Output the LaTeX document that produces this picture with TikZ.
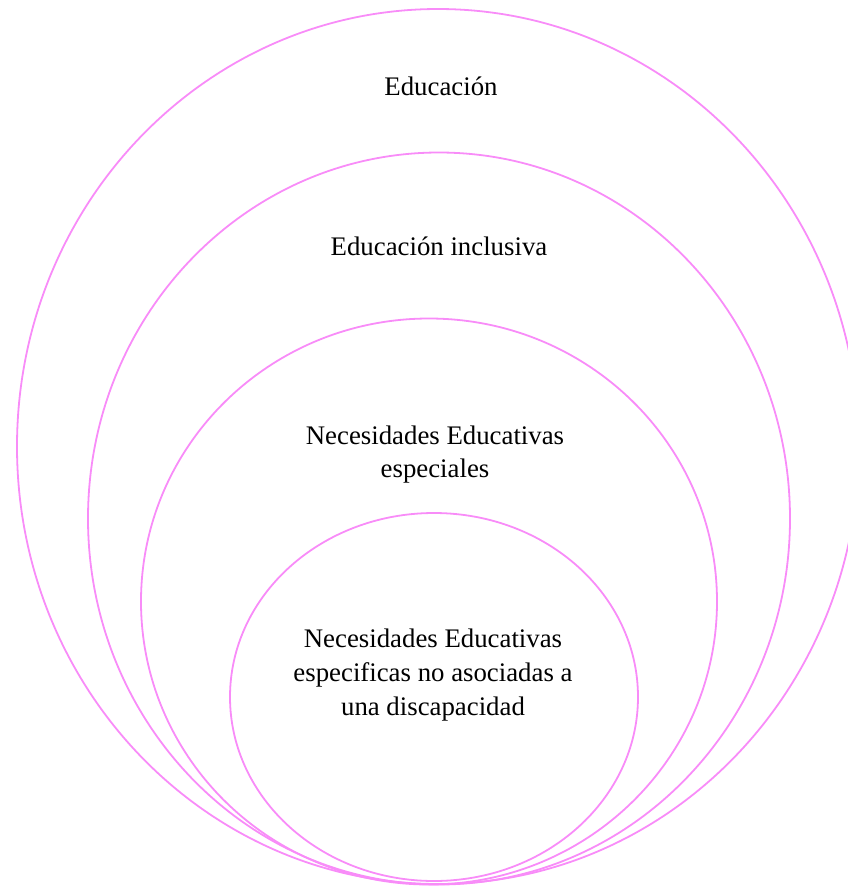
\documentclass[tikz,border=0pt]{standalone}
\usepackage{fontspec}
\setmainfont{Liberation Serif}
\definecolor{ringpink}{RGB}{248,140,248}
\begin{document}
\begin{tikzpicture}[x=1pt,y=-1pt,
  ring/.style={draw=ringpink,line width=1.8pt},
  lbl/.style={font=\fontsize{26.8}{33.8}\selectfont,align=center,inner sep=0pt}]
\useasboundingbox (0,0) rectangle (848,887);
\draw[ring] (438,446.5) ellipse [x radius=421, y radius=437.5];
\draw[ring] (439,518.5) ellipse [x radius=351, y radius=366];
\draw[ring] (429,601.5) ellipse [x radius=288, y radius=283];
\draw[ring] (434,697) ellipse [x radius=204, y radius=184];
\node[lbl] (t1) at (441,86) {Educación};
\node[lbl] (t2) at (439,246) {Educación inclusiva};
\node[lbl] (t3) at (435,454.5) {Necesidades Educativas\\especiales};
\node[lbl] (t4) at (433,675) {Necesidades Educativas\\especificas no asociadas a\\una discapacidad};
\end{tikzpicture}
\end{document}
